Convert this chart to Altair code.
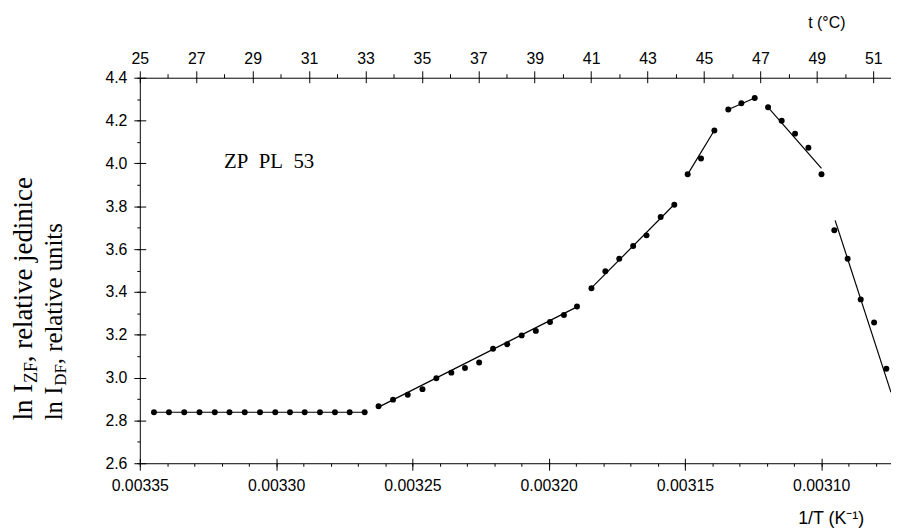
import altair as alt
import pandas as pd

# ---- measured points (1/T in K^-1, ln I) ----
inv_T = [
    0.0033448, 0.0033393, 0.0033337, 0.0033281, 0.0033225, 0.0033171, 0.0033115, 0.0033059,
    0.0033003, 0.0032949, 0.0032895, 0.0032839, 0.0032784, 0.0032730, 0.0032675,
    0.0032624, 0.0032571, 0.0032517, 0.0032463, 0.0032412, 0.0032357, 0.0032307, 0.0032255,
    0.0032204, 0.0032152, 0.0032099, 0.0032047, 0.0031995, 0.0031944, 0.0031896,
    0.0031843, 0.0031792, 0.0031741, 0.0031690, 0.0031641, 0.0031589, 0.0031539,
    0.0031490, 0.0031441, 0.0031392,
    0.0031341, 0.0031293, 0.0031244,
    0.0031195, 0.0031145, 0.0031096, 0.0031047, 0.0030999,
    0.0030952, 0.0030903, 0.0030855, 0.0030806, 0.0030761,
]
ln_I = [
    2.838, 2.838, 2.838, 2.838, 2.838, 2.838, 2.838, 2.838,
    2.838, 2.838, 2.838, 2.838, 2.838, 2.838, 2.838,
    2.866, 2.897, 2.920, 2.946, 2.997, 3.023, 3.045, 3.070,
    3.135, 3.156, 3.197, 3.218, 3.259, 3.292, 3.332,
    3.417, 3.496, 3.555, 3.614, 3.664, 3.750, 3.807,
    3.949, 4.023, 4.154,
    4.252, 4.281, 4.305,
    4.262, 4.199, 4.139, 4.073, 3.949,
    3.688, 3.555, 3.365, 3.257, 3.041,
]

# ---- fitted line segments (end points) ----
fit_seg = ["s0", "s0", "s1", "s1", "s2", "s2", "s3", "s3", "s4", "s4", "s5", "s5", "s6", "s6"]
fit_x = [0.0033448, 0.0032675, 0.0032624, 0.0031896, 0.0031851, 0.0031534,
         0.0031490, 0.0031388, 0.0031341, 0.0031244, 0.0031195, 0.0030999,
         0.0030949, 0.0030744]
fit_y = [2.838, 2.838, 2.862, 3.330, 3.408, 3.815,
         3.949, 4.163, 4.252, 4.305, 4.262, 3.977,
         3.734, 2.931]

# ---- axis ticks ----
x_major = [0.00335, 0.00330, 0.00325, 0.00320, 0.00315, 0.00310]
x_minor = [0.00335, 0.00334, 0.00333, 0.00332, 0.00331, 0.00330, 0.00329, 0.00328,
           0.00327, 0.00326, 0.00325, 0.00324, 0.00323, 0.00322, 0.00321, 0.00320,
           0.00319, 0.00318, 0.00317, 0.00316, 0.00315, 0.00314, 0.00313, 0.00312,
           0.00311, 0.00310, 0.00309, 0.00308]
y_major = [2.6, 2.8, 3.0, 3.2, 3.4, 3.6, 3.8, 4.0, 4.2, 4.4]
y_minor = [2.6, 2.7, 2.8, 2.9, 3.0, 3.1, 3.2, 3.3, 3.4, 3.5, 3.6, 3.7, 3.8, 3.9,
           4.0, 4.1, 4.2, 4.3, 4.4]
t_major = [25, 27, 29, 31, 33, 35, 37, 39, 41, 43, 45, 47, 49, 51]
t_minor = [26, 28, 30, 32, 34, 36, 38, 40, 42, 44, 46, 48, 50]

W, H = 758, 389
SANS = "Liberation Sans"
SERIF = "Liberation Serif"

df_pts = pd.DataFrame({"inv_T": inv_T, "ln_I": ln_I})
df_fit = pd.DataFrame({"seg": fit_seg, "x": fit_x, "y": fit_y})

x_scale = alt.Scale(domain=[0.0030744, 0.00335], reverse=True, nice=False, zero=False)
y_scale = alt.Scale(domain=[2.6, 4.4], nice=False, zero=False)
t_scale = alt.Scale(domain=[25, 51.63], nice=False, zero=False)

points = alt.Chart(df_pts).mark_circle(size=36, color="black", opacity=1).encode(
    x=alt.X("inv_T:Q", scale=x_scale,
            axis=alt.Axis(orient="bottom", values=x_major, format=".5f", offset=-5,
                          tickSize=12, labelPadding=8, domain=False, title=None,
                          grid=False, labelFlush=False, labelOverlap=False)),
    y=alt.Y("ln_I:Q", scale=y_scale,
            axis=alt.Axis(orient="left", values=y_major, format=".1f", offset=-6,
                          tickSize=12, labelPadding=7, domain=False, title=None,
                          grid=False, labelFlush=False, labelOverlap=False)),
)

fits = alt.Chart(df_fit).mark_line(color="black", strokeWidth=1.2, clip=True).encode(
    x=alt.X("x:Q", scale=x_scale,
            axis=alt.Axis(orient="bottom", values=x_minor, labels=False, tickSize=3,
                          domain=True, title=None, grid=False)),
    y=alt.Y("y:Q", scale=y_scale,
            axis=alt.Axis(orient="left", values=y_minor, labels=False, tickSize=3,
                          domain=True, title=None, grid=False)),
    detail="seg:N",
)

top_major = alt.Chart(pd.DataFrame({"t": t_major})).mark_point(opacity=0).encode(
    x=alt.X("t:Q", scale=t_scale,
            axis=alt.Axis(orient="top", values=t_major, format="d", offset=-5,
                          tickSize=12, labelPadding=4, domain=False, title=None,
                          grid=False, labelFlush=False, labelOverlap=False)),
)
top_minor = alt.Chart(pd.DataFrame({"t": t_minor})).mark_point(opacity=0).encode(
    x=alt.X("t:Q", scale=t_scale,
            axis=alt.Axis(orient="top", values=t_minor, labels=False, tickSize=4,
                          domain=True, title=None, grid=False)),
)


def label(text, x, y, size, font, angle=0, align="left", baseline="alphabetic"):
    return alt.Chart(pd.DataFrame({"v": [0]})).mark_text(
        text=text, font=font, fontSize=size, angle=angle, align=align,
        baseline=baseline, color="black",
    ).encode(x=alt.value(x), y=alt.value(y))


texts = [
    label("ZP\u2002PL\u200253", 85, 91, 21, SERIF),
    label("t (°C)", 712, -50, 16, SANS, align="right"),
    label("1/T (K\u207b\u00b9)", 731, 450, 18, SANS, align="right"),
    # y title, line 1
    label("ln I", -109, 345.7, 27, SERIF, angle=270),
    label("ZF", -104, 308, 18, SERIF, angle=270),
    label(", relative jedinice", -109, 287, 27, SERIF, angle=270),
    # y title, line 2
    label("ln I", -79, 345.7, 25, SERIF, angle=270),
    label("DF", -74, 310.7, 17, SERIF, angle=270),
    label(", relative units", -79, 289, 25, SERIF, angle=270),
]

chart = alt.layer(fits, points, top_minor, top_major, *texts).resolve_scale(
    x="independent", y="independent"
).resolve_axis(
    x="independent", y="independent"
).properties(
    width=W, height=H,
    autosize=alt.AutoSizeParams(type="none"),
    padding={"left": 133, "top": 68, "right": 0, "bottom": 64},
).configure_view(stroke=None).configure_axis(
    labelFont=SANS, labelFontSize=16, labelColor="black",
    tickColor="black", tickWidth=1, domainColor="black", domainWidth=1,
)

chart.save("out.html", embed_options={"renderer": "svg", "actions": False})
